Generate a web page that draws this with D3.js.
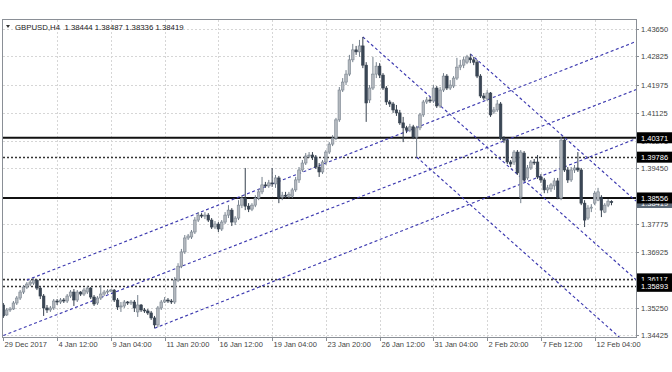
<!DOCTYPE html>
<html>
<head>
<meta charset="utf-8">
<script src="https://cdn.jsdelivr.net/npm/d3@7"></script>
<style>
  body { margin: 0; background: #fff; }
  svg { display: block; font-family: "Liberation Sans", Arial, sans-serif; }
</style>
</head>
<body>
<div id="chart"></div>
<script>
// GBPUSD H4 candles, one entry per bar
const symbolTitle = "GBPUSD,H4  1.38444 1.38487 1.38336 1.38419";

const opens = [
  1.3533,1.3503,1.3518,1.3521,1.3539,1.3554,1.3572,1.3587,1.3596,1.3599,
  1.3608,1.3584,1.3560,1.3524,1.3518,1.3524,1.3545,1.3542,1.3548,1.3545,
  1.3560,1.3572,1.3548,1.3572,1.3566,1.3572,1.3584,1.3557,1.3539,1.3554,
  1.3566,1.3572,1.3575,1.3578,1.3548,1.3527,1.3530,1.3542,1.3539,1.3542,
  1.3512,1.3533,1.3518,1.3515,1.3509,1.3494,1.3473,1.3524,1.3542,1.3548,
  1.3545,1.3542,1.3608,1.3650,1.3693,1.3735,1.3738,1.3753,1.3789,1.3804,
  1.3801,1.3804,1.3789,1.3768,1.3777,1.3762,1.3783,1.3804,1.3819,1.3783,
  1.3795,1.3834,1.3855,1.3831,1.3822,1.3834,1.3855,1.3874,1.3895,1.3892,
  1.3901,1.3898,1.3916,1.3858,1.3864,1.3861,1.3861,1.3880,1.3910,1.3940,
  1.3961,1.3982,1.3985,1.3979,1.3949,1.3934,1.3964,1.3994,1.4018,1.4036,
  1.4091,1.4181,1.4205,1.4229,1.4272,1.4302,1.4296,1.4314,1.4256,1.4151,
  1.4187,1.4229,1.4253,1.4226,1.4187,1.4145,1.4139,1.4121,1.4112,1.4082,
  1.4067,1.4060,1.4070,1.4039,1.4067,1.4106,1.4145,1.4151,1.4148,1.4187,
  1.4133,1.4181,1.4223,1.4187,1.4193,1.4217,1.4250,1.4256,1.4265,1.4278,
  1.4272,1.4265,1.4223,1.4163,1.4154,1.4172,1.4115,1.4121,1.4139,1.4036,
  1.4030,1.3964,1.3964,1.3994,1.3858,1.3991,1.3916,1.3946,1.3964,1.3964,
  1.3919,1.3910,1.3880,1.3883,1.3892,1.3907,1.3855,1.4030,1.3940,1.3910,
  1.3940,1.3946,1.3940,1.3840,1.3795,1.3825,1.3840,1.3849,1.3858,1.3813,
  1.3834,1.38444
];
const highs = [
  1.3539,1.3524,1.3527,1.3545,1.3560,1.3578,1.3593,1.3602,1.3608,1.3614,
  1.3611,1.3590,1.3566,1.3533,1.3530,1.3551,1.3551,1.3554,1.3554,1.3566,
  1.3578,1.3581,1.3578,1.3575,1.3584,1.3590,1.3587,1.3563,1.3560,1.3593,
  1.3578,1.3581,1.3581,1.3581,1.3554,1.3542,1.3548,1.3545,1.3548,1.3548,
  1.3563,1.3536,1.3524,1.3521,1.3515,1.3500,1.3530,1.3548,1.3557,1.3554,
  1.3551,1.3617,1.3659,1.3702,1.3744,1.3747,1.3759,1.3798,1.3813,1.3810,
  1.3813,1.3810,1.3795,1.3786,1.3783,1.3789,1.3813,1.3834,1.3825,1.3801,
  1.3849,1.3864,1.3946,1.3840,1.3840,1.3864,1.3883,1.3919,1.3904,1.3910,
  1.3946,1.3925,1.3922,1.3874,1.3874,1.3874,1.3886,1.3919,1.3949,1.3970,
  1.3991,1.3994,1.3994,1.3985,1.3961,1.3970,1.4000,1.4024,1.4045,1.4097,
  1.4190,1.4217,1.4241,1.4287,1.4320,1.4314,1.4332,1.4341,1.4265,1.4196,
  1.4281,1.4265,1.4262,1.4232,1.4193,1.4151,1.4145,1.4136,1.4121,1.4100,
  1.4073,1.4079,1.4076,1.4073,1.4112,1.4151,1.4160,1.4160,1.4196,1.4193,
  1.4190,1.4232,1.4229,1.4211,1.4223,1.4278,1.4272,1.4281,1.4287,1.4290,
  1.4281,1.4272,1.4229,1.4172,1.4181,1.4175,1.4130,1.4151,1.4145,1.4042,
  1.4036,1.3970,1.4000,1.4000,1.4000,1.3997,1.3955,1.3970,1.3973,1.3985,
  1.3928,1.3916,1.3895,1.3901,1.3916,1.3916,1.4039,1.4036,1.3949,1.3949,
  1.3955,1.3994,1.3946,1.3849,1.3834,1.3837,1.3877,1.3886,1.3864,1.3840,
  1.3852,1.38487
];
const lows = [
  1.3494,1.3500,1.3512,1.3518,1.3533,1.3548,1.3566,1.3581,1.3590,1.3593,
  1.3578,1.3551,1.3500,1.3509,1.3512,1.3518,1.3533,1.3536,1.3539,1.3539,
  1.3554,1.3530,1.3542,1.3560,1.3560,1.3566,1.3551,1.3530,1.3533,1.3548,
  1.3560,1.3566,1.3572,1.3542,1.3518,1.3512,1.3524,1.3533,1.3533,1.3512,
  1.3497,1.3512,1.3509,1.3503,1.3488,1.3463,1.3466,1.3518,1.3539,1.3539,
  1.3536,1.3536,1.3602,1.3644,1.3687,1.3729,1.3732,1.3747,1.3783,1.3795,
  1.3792,1.3783,1.3762,1.3762,1.3753,1.3756,1.3777,1.3795,1.3771,1.3774,
  1.3789,1.3825,1.3819,1.3813,1.3816,1.3828,1.3849,1.3867,1.3886,1.3886,
  1.3889,1.3886,1.3840,1.3849,1.3855,1.3855,1.3855,1.3874,1.3901,1.3934,
  1.3955,1.3976,1.3970,1.3943,1.3919,1.3928,1.3955,1.3988,1.4012,1.4030,
  1.4085,1.4175,1.4196,1.4223,1.4265,1.4287,1.4281,1.4247,1.4085,1.4142,
  1.4181,1.4217,1.4217,1.4181,1.4136,1.4130,1.4112,1.4103,1.4076,1.4024,
  1.4051,1.4054,1.4033,1.3979,1.4060,1.4100,1.4139,1.4142,1.4142,1.4127,
  1.4127,1.4175,1.4181,1.4181,1.4187,1.4211,1.4241,1.4247,1.4259,1.4262,
  1.4256,1.4217,1.4157,1.4151,1.4148,1.4100,1.4109,1.4115,1.4030,1.4021,
  1.3958,1.3949,1.3955,1.3925,1.3840,1.3904,1.3910,1.3940,1.3955,1.3913,
  1.3901,1.3870,1.3870,1.3874,1.3880,1.3852,1.3849,1.3934,1.3901,1.3904,
  1.3931,1.3934,1.3834,1.3768,1.3789,1.3813,1.3834,1.3846,1.3798,1.3810,
  1.3828,1.38336
];
const closes = [
  1.3500,1.3518,1.3521,1.3539,1.3554,1.3572,1.3587,1.3596,1.3602,1.3608,
  1.3584,1.3560,1.3524,1.3518,1.3524,1.3545,1.3542,1.3548,1.3545,1.3560,
  1.3572,1.3548,1.3572,1.3566,1.3578,1.3584,1.3557,1.3536,1.3554,1.3566,
  1.3572,1.3575,1.3578,1.3548,1.3527,1.3530,1.3542,1.3539,1.3542,1.3524,
  1.3533,1.3518,1.3515,1.3509,1.3494,1.3473,1.3524,1.3542,1.3548,1.3545,
  1.3542,1.3608,1.3650,1.3693,1.3735,1.3741,1.3753,1.3789,1.3804,1.3801,
  1.3804,1.3789,1.3768,1.3777,1.3762,1.3783,1.3804,1.3819,1.3783,1.3795,
  1.3834,1.3855,1.3831,1.3822,1.3834,1.3855,1.3874,1.3895,1.3892,1.3901,
  1.3898,1.3916,1.3858,1.3864,1.3861,1.3867,1.3880,1.3910,1.3940,1.3961,
  1.3982,1.3985,1.3979,1.3949,1.3934,1.3964,1.3994,1.4018,1.4036,1.4091,
  1.4181,1.4205,1.4229,1.4272,1.4302,1.4296,1.4314,1.4256,1.4142,1.4187,
  1.4229,1.4253,1.4226,1.4187,1.4145,1.4139,1.4121,1.4112,1.4082,1.4067,
  1.4060,1.4070,1.4039,1.4067,1.4106,1.4145,1.4151,1.4148,1.4187,1.4133,
  1.4181,1.4223,1.4187,1.4196,1.4217,1.4250,1.4256,1.4272,1.4281,1.4272,
  1.4265,1.4223,1.4163,1.4157,1.4172,1.4106,1.4121,1.4139,1.4036,1.4030,
  1.3964,1.3958,1.3994,1.3931,1.3994,1.3910,1.3946,1.3964,1.3963,1.3919,
  1.3910,1.3880,1.3886,1.3895,1.3907,1.3858,1.4030,1.3940,1.3910,1.3940,
  1.3946,1.3940,1.3840,1.3789,1.3825,1.3828,1.3870,1.3874,1.3819,1.3834,
  1.3846,1.38419
];

// time axis labels every 16 bars
const dateTickBars = [0, 16, 32, 48, 64, 80, 96, 112, 128, 144, 160, 176];
const dateTickLabels = ["29 Dec 2017", "4 Jan 12:00", "9 Jan 04:00", "11 Jan 20:00",
  "16 Jan 12:00", "19 Jan 04:00", "23 Jan 20:00", "26 Jan 12:00",
  "31 Jan 04:00", "2 Feb 20:00", "7 Feb 12:00", "12 Feb 04:00"];

const priceTicks = [1.43650, 1.42825, 1.41975, 1.41125, 1.40275, 1.39450,
  1.38600, 1.37775, 1.36925, 1.36075, 1.35250, 1.34425];

// horizontal levels
const solidLevels = [1.40371, 1.38556];
const dottedLevels = [1.39786, 1.36117, 1.35893];
const lastPrice = 1.38419;

// trend lines as [bar1, price1, bar2, price2], drawn as rays to the right
const upLineA = [7, 1.3608, 188, 1.4326];
const upLineB = [0, 1.3441, 188, 1.4181];
const upLineC = [45, 1.3463, 188, 1.4033];
const downLine1 = [107, 1.4341, 188, 1.3612];
const downLine2 = [139, 1.4290, 188, 1.3849];
const downLine3 = [123, 1.3979, 188, 1.3394];
const trendLines = [upLineA, upLineB, upLineC, downLine1, downLine2, downLine3];

const width = 672, height = 372;
const plotL = 3, plotR = 636, plotT = 20, plotB = 337;

const svg = d3.select("#chart").append("svg")
  .attr("width", width).attr("height", height);

const x = d3.scaleLinear().domain([-0.1, 188.3]).range([plotL, plotR]);
const y = d3.scaleLinear().domain([1.34365, 1.43921]).range([plotB, plotT]);

svg.append("defs").append("clipPath").attr("id", "plot")
  .append("rect").attr("x", plotL).attr("y", plotT)
  .attr("width", plotR - plotL).attr("height", plotB - plotT);

// grid
const grid = svg.append("g").attr("stroke", "#d6d6d6").attr("stroke-dasharray", "2,2");
grid.selectAll("line.h").data(priceTicks).enter().append("line")
  .attr("x1", plotL).attr("x2", plotR)
  .attr("y1", d => Math.round(y(d)) + 0.5).attr("y2", d => Math.round(y(d)) + 0.5);
grid.selectAll("line.v").data(dateTickBars.slice(1)).enter().append("line")
  .attr("y1", plotT).attr("y2", plotB)
  .attr("x1", d => Math.round(x(d)) + 0.5).attr("x2", d => Math.round(x(d)) + 0.5);

const plot = svg.append("g").attr("clip-path", "url(#plot)");

// horizontal levels
plot.selectAll("line.solid").data(solidLevels).enter().append("line")
  .attr("x1", plotL).attr("x2", plotR)
  .attr("y1", d => y(d)).attr("y2", d => y(d))
  .attr("stroke", "#111").attr("stroke-width", 2);
plot.selectAll("line.dot").data(dottedLevels).enter().append("line")
  .attr("x1", plotL).attr("x2", plotR)
  .attr("y1", d => Math.round(y(d)) + 0.5).attr("y2", d => Math.round(y(d)) + 0.5)
  .attr("stroke", "#333").attr("stroke-width", 1.4).attr("stroke-dasharray", "2,2");

// trend lines (rays)
const endBar = x.domain()[1];
plot.selectAll("line.trend").data(trendLines).enter().append("line")
  .attr("x1", d => x(d[0])).attr("y1", d => y(d[1]))
  .attr("x2", x(endBar))
  .attr("y2", d => y(d[1] + (d[3] - d[1]) * (endBar - d[0]) / (d[2] - d[0])))
  .attr("stroke", "#3d3ab0").attr("stroke-width", 1.15).attr("stroke-dasharray", "3,2.5");

// candles
const bars = d3.range(opens.length);
const bodyW = 2.6;
const candle = plot.selectAll("g.c").data(bars).enter().append("g");
candle.append("line")
  .attr("x1", i => x(i)).attr("x2", i => x(i))
  .attr("y1", i => y(highs[i])).attr("y2", i => y(lows[i]))
  .attr("stroke", i => closes[i] < opens[i] ? "#36414e" : "#75808c")
  .attr("stroke-width", 1);
candle.append("rect")
  .attr("x", i => x(i) - bodyW / 2)
  .attr("width", bodyW)
  .attr("y", i => y(Math.max(opens[i], closes[i])))
  .attr("height", i => Math.max(1, Math.abs(y(opens[i]) - y(closes[i]))))
  .attr("fill", i => closes[i] < opens[i] ? "#3a4655" : "#b3b8be")
  .attr("stroke", i => closes[i] < opens[i] ? "#36414e" : "#7b8590")
  .attr("stroke-width", 0.6);

// frame
svg.append("rect").attr("x", plotL - 0.5).attr("y", plotT - 0.5)
  .attr("width", plotR - plotL + 1).attr("height", plotB - plotT + 1)
  .attr("fill", "none").attr("stroke", "#8a8f96");

// right price axis
const yAxis = svg.append("g").attr("font-size", 7.5).attr("fill", "#444");
priceTicks.forEach(p => {
  const yy = Math.round(y(p)) + 0.5;
  yAxis.append("line").attr("x1", plotR).attr("x2", plotR + 3)
    .attr("y1", yy).attr("y2", yy).attr("stroke", "#8a8f96");
  yAxis.append("text").attr("x", 641).attr("y", yy + 2.8).text(p.toFixed(5));
});

// bottom time axis
const xAxis = svg.append("g").attr("font-size", 7.5).attr("fill", "#444");
dateTickBars.forEach((b, k) => {
  const xx = Math.round(x(b)) + 0.5;
  xAxis.append("line").attr("x1", xx).attr("x2", xx)
    .attr("y1", plotB).attr("y2", plotB + 4).attr("stroke", "#8a8f96");
  xAxis.append("text").attr("x", xx + 1).attr("y", plotB + 10).text(dateTickLabels[k]);
});

// price tags on the axis
function tag(p, fill) {
  const yy = y(p);
  svg.append("rect").attr("x", plotR + 1).attr("y", yy - 5.5)
    .attr("width", 36).attr("height", 11).attr("fill", fill);
  svg.append("text").attr("x", 641).attr("y", yy + 3)
    .attr("font-size", 7.5).attr("fill", "#fff").text(p.toFixed(5));
}
tag(lastPrice, "#5d6a78");
[...dottedLevels, ...solidLevels].forEach(p => tag(p, "#000"));

// title
svg.append("path").attr("d", "M6,25 L10,25 L8,28 Z").attr("fill", "#333");
svg.append("text").attr("x", 15).attr("y", 29.5).attr("font-size", 7.8)
  .attr("fill", "#222").style("white-space", "pre")
  .text(symbolTitle);
</script>
</body>
</html>
